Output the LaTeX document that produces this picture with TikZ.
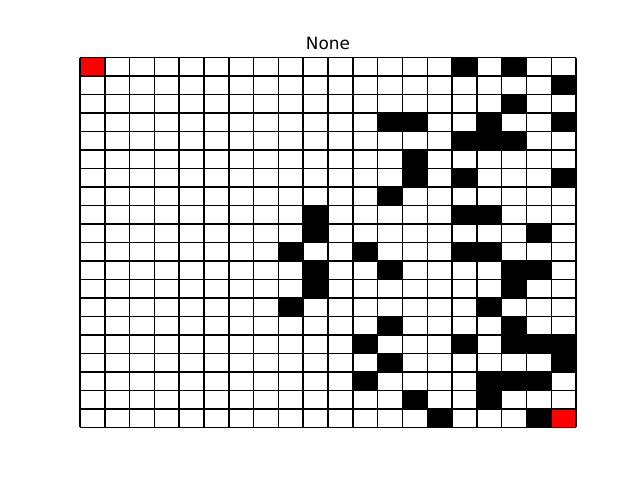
\documentclass[tikz,border=0pt]{standalone}
\usepackage{fontspec}
\setmainfont{DejaVu Sans}
\tikzset{
  wallcell/.style={fill=black},
  endcell/.style={fill=red},
  gridline/.style={draw=black, line width=1.1pt},
  titletext/.style={font=\fontsize{12}{14}\selectfont},
}

\begin{document}
\begin{tikzpicture}[x=0.025cm, y=-0.025cm]
  \useasboundingbox (0,0) rectangle (640,480);
  \node[titletext] (title) at (328,43) {None};
  % maze, one unit = one cell
  \begin{scope}[shift={(80,57.6)}, x=0.62cm, y=-0.462cm]
    \foreach \c/\r in {15/0,17/0, 19/1, 17/2, 12/3,13/3,16/3,19/3,
        15/4,16/4,17/4, 13/5, 13/6,15/6,19/6, 12/7, 9/8,15/8,16/8,
        9/9,18/9, 8/10,11/10,15/10,16/10, 9/11,12/11,17/11,18/11,
        9/12,17/12, 8/13,16/13, 12/14,17/14, 11/15,15/15,17/15,18/15,19/15,
        12/16,19/16, 11/17,16/17,17/17,18/17, 13/18,16/18, 14/19,18/19}
      \fill[wallcell] (\c,\r) rectangle ++(1,1);
    % start and goal
    \fill[endcell] (0,0) rectangle (1,1);
    \fill[endcell] (19,19) rectangle (20,20);
    \foreach \i in {0,...,20} {
      \draw[gridline] (\i,0) -- (\i,20);
      \draw[gridline] (0,\i) -- (20,\i);
    }
  \end{scope}
\end{tikzpicture}
\end{document}
